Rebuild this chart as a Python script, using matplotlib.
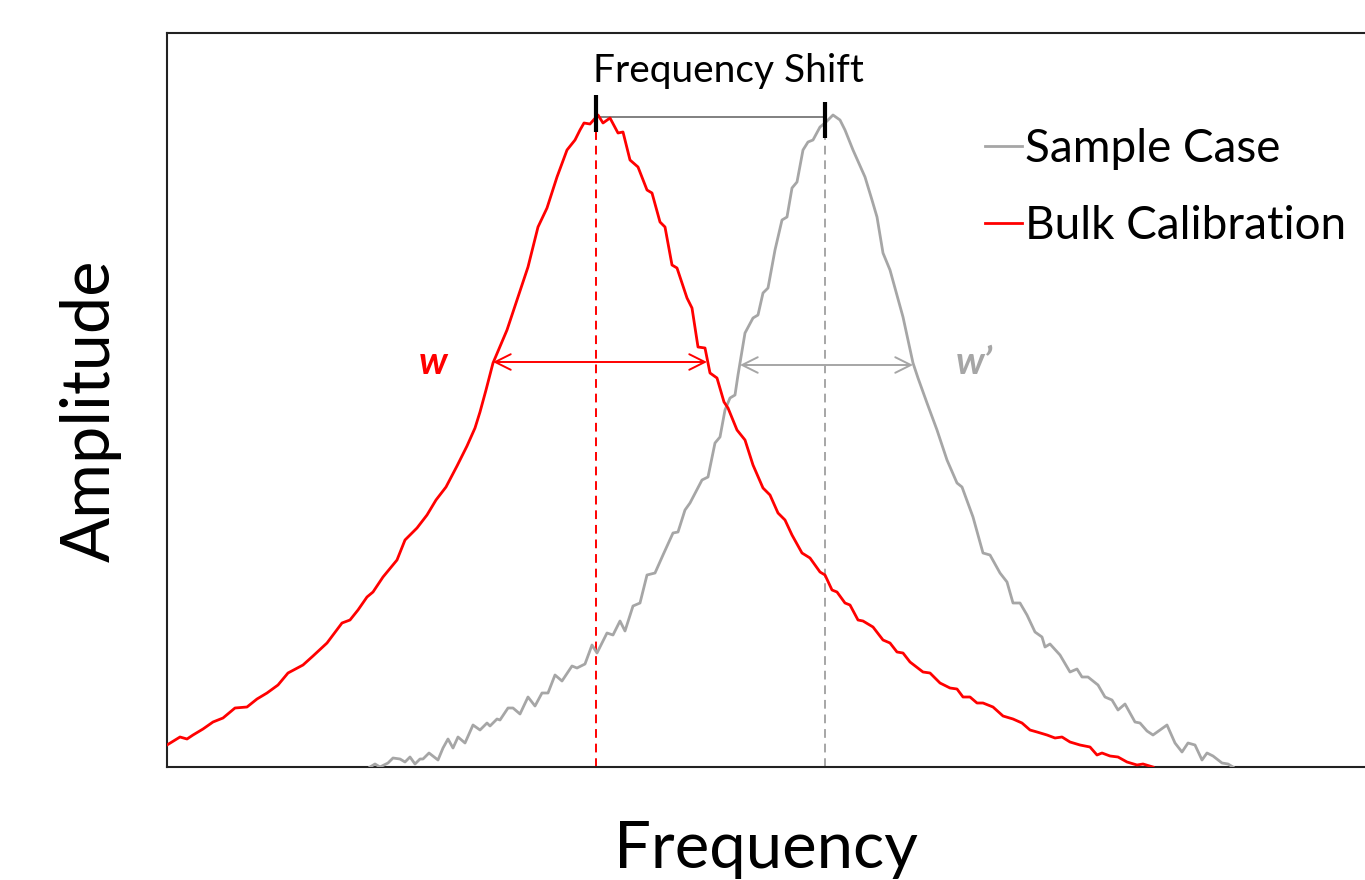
import matplotlib.pyplot as plt

plt.rcParams['font.family'] = ['Lato', 'DejaVu Sans']

# values (frequency / amplitude in arbitrary units)
bulk_freq = [167, 180, 187, 193, 203, 213, 223, 235, 247, 257, 267, 278, 288, 303, 313, 327,
             342, 350, 358, 367, 373, 383, 397, 405, 417, 427, 436, 446, 457, 467, 475, 480,
             486, 493, 507, 518, 528, 538, 547, 557, 567, 575, 580, 584, 590, 598, 603, 610,
             618, 623, 630, 638, 647, 652, 660, 665, 672, 677, 687, 692, 698, 705, 710, 717,
             724, 728, 737, 745, 753, 763, 770, 778, 785, 792, 802, 810, 820, 825, 832, 837,
             845, 850, 858, 863, 873, 883, 890, 897, 903, 910, 923, 930, 940, 950, 957, 963,
             970, 977, 983, 993, 1003, 1013, 1022, 1030, 1037, 1047, 1055, 1062, 1070, 1080,
             1090, 1097, 1102, 1110, 1118, 1127, 1137, 1143, 1153]
bulk_amp = [22, 30, 28, 32, 38, 45, 49, 59, 60, 68, 74, 82, 94, 102, 111, 124,
            144, 147, 157, 170, 175, 190, 207, 227, 239, 252, 267, 280, 301, 321, 339, 355,
            377, 404, 437, 470, 500, 540, 559, 590, 617, 627, 637, 644, 643, 652, 644, 649,
            634, 635, 607, 600, 577, 574, 545, 540, 502, 499, 469, 459, 420, 419, 394, 389,
            365, 359, 337, 327, 302, 279, 272, 254, 247, 232, 214, 209, 195, 192, 177, 175,
            164, 162, 147, 146, 140, 127, 124, 115, 114, 105, 95, 94, 84, 79, 78, 70,
            70, 64, 64, 60, 51, 48, 44, 37, 35, 32, 29, 30, 25, 22,
            20, 12, 14, 11, 10, 5, 2, 3, 0]

sample_freq = [370, 375, 380, 388, 393, 400, 405, 410, 415, 420, 423, 429, 438, 443, 448, 453,
               458, 465, 473, 480, 487, 490, 497, 500, 508, 513, 520, 528, 535, 542, 548, 555,
               562, 572, 577, 585, 592, 597, 607, 613, 620, 625, 633, 640, 647, 655, 663, 673,
               678, 685, 690, 702, 708, 715, 720, 725, 730, 735, 738, 740, 745, 753, 758, 763,
               768, 775, 782, 787, 792, 797, 803, 808, 813, 820, 825, 833, 840, 845, 853, 865,
               872, 877, 883, 890, 903, 913, 918, 927, 937, 947, 957, 962, 973, 983, 990, 1000,
               1007, 1013, 1020, 1027, 1035, 1042, 1045, 1050, 1060, 1070, 1077, 1082, 1088,
               1098, 1105, 1112, 1118, 1125, 1135, 1140, 1147, 1153, 1160, 1167, 1175, 1182,
               1188, 1195, 1202, 1207, 1213, 1222, 1228, 1233]
sample_amp = [0, 3, 0, 4, 9, 8, 5, 10, 3, 8, 8, 14, 7, 19, 28, 19,
              30, 24, 42, 37, 44, 41, 48, 47, 59, 59, 53, 70, 61, 74, 74, 92,
              86, 101, 99, 103, 122, 114, 134, 132, 146, 136, 161, 164, 192, 194, 212, 234,
              235, 257, 264, 287, 290, 324, 330, 357, 369, 372, 392, 404, 434, 449, 452, 474,
              479, 517, 547, 550, 579, 585, 617, 625, 627, 640, 644, 652, 647, 637, 617, 590,
              567, 550, 514, 497, 450, 404, 389, 364, 337, 307, 284, 280, 250, 214, 212, 194,
              185, 164, 164, 152, 135, 130, 120, 123, 112, 95, 98, 90, 90,
              82, 70, 67, 57, 63, 45, 44, 36, 32, 37, 42, 24, 15,
              24, 22, 7, 14, 11, 4, 3, 0]

peak_freqs = [596, 825]          # bulk, sample
shift_level = 650
tick_ranges = [(635, 672), (629, 665)]
bulk_width = (493, 707, 405)     # left, right, amplitude
sample_width = (740, 913, 402)

red = '#FF0000'
grey = '#A6A6A6'

fig = plt.figure(figsize=(13.65, 8.8), dpi=100)
ax = fig.add_axes([167 / 1365, 113 / 880, 1198 / 1365, 734 / 880])

ax.plot(sample_freq, sample_amp, color=grey, lw=2.0, label='Sample Case', zorder=3)
ax.plot(bulk_freq, bulk_amp, color=red, lw=2.0, label='Bulk Calibration', zorder=4)

# peak markers
ax.vlines(peak_freqs[0], 0, tick_ranges[0][0], colors=red, linestyles=(0, (4.5, 3)), lw=1.4)
ax.vlines(peak_freqs[1], 0, tick_ranges[1][0], colors=grey, linestyles=(0, (4.5, 3)), lw=1.4)
ax.hlines(shift_level, peak_freqs[0], peak_freqs[1], colors='#808080', lw=1.4)
for f, (lo, hi) in zip(peak_freqs, tick_ranges):
    ax.vlines(f, lo, hi, colors='black', lw=3, zorder=6)
ax.text(728, 685, 'Frequency Shift', ha='center', va='baseline', fontsize=28)

# widths
ax.annotate('', xy=(bulk_width[0], bulk_width[2]), xytext=(bulk_width[1], bulk_width[2]),
            arrowprops=dict(arrowstyle='<->', color=red, lw=1.4, mutation_scale=28,
                            shrinkA=0, shrinkB=0))
ax.annotate('', xy=(sample_width[0], sample_width[2]), xytext=(sample_width[1], sample_width[2]),
            arrowprops=dict(arrowstyle='<->', color=grey, lw=1.4, mutation_scale=28,
                            shrinkA=0, shrinkB=0))
ax.text(433, 405, 'w', color=red, fontsize=28, fontweight='bold', fontstyle='italic',
        ha='center', va='center')
ax.text(974, 405, 'w’', color=grey, fontsize=28, fontweight='bold', fontstyle='italic',
        ha='center', va='center')

ax.set_xlim(167, 1365)
ax.set_ylim(0, 734)
ax.set_xticks([])
ax.set_yticks([])
ax.spines['right'].set_visible(False)
for s in ['left', 'top', 'bottom']:
    ax.spines[s].set_linewidth(1.5)
    ax.spines[s].set_color('#222222')

ax.set_xlabel('Frequency', fontsize=47, labelpad=38)
ax.set_ylabel('Amplitude', fontsize=48, labelpad=28)
ax.yaxis.set_label_coords(-0.038, 0.485)

ax.legend(loc='upper left', bbox_to_anchor=(985 / 1365, 1 - 128 / 880),
          bbox_transform=fig.transFigure, frameon=False, fontsize=33,
          handlelength=0.8, handletextpad=0.08, labelspacing=0.77, borderpad=0,
          borderaxespad=0)

plt.savefig('out.png', dpi=100)
